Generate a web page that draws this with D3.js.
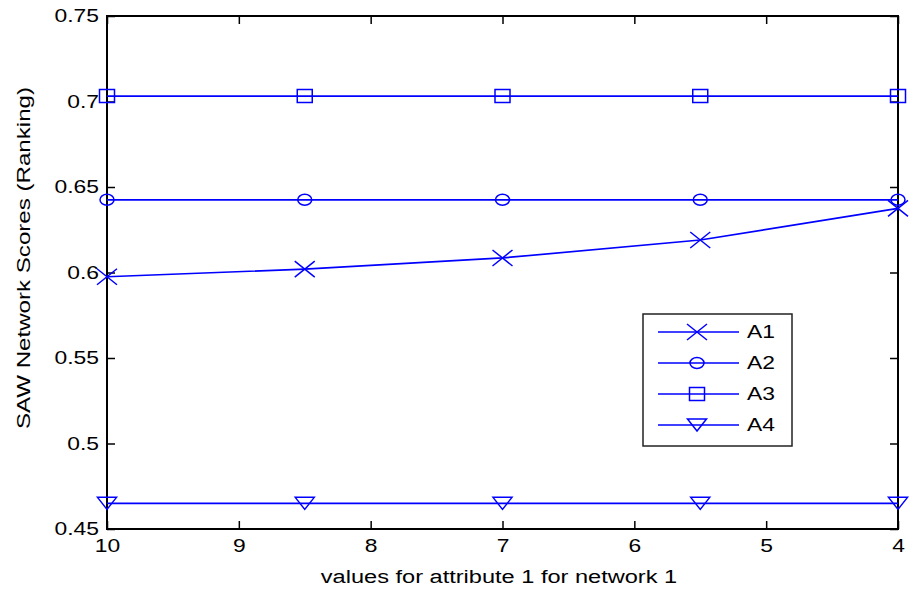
<!DOCTYPE html>
<html>
<head>
<meta charset="utf-8">
<script src="https://cdn.jsdelivr.net/npm/d3@7"></script>
<style>
  body { margin: 0; background: #fff; }
  svg { display: block; font-family: "Liberation Sans", Arial, sans-serif; }
</style>
</head>
<body>
<svg id="chart" width="912" height="592"></svg>
<script>
// Attribute 1 values for network 1 (x axis runs from 10 down to 4)
const attrValues = [10, 8.5, 7, 5.5, 4];
const seriesNames = ["A1", "A2", "A3", "A4"];
const scoresA1 = [0.5975, 0.6020, 0.6085, 0.6190, 0.6375];
const scoresA2 = [0.6425, 0.6425, 0.6425, 0.6425, 0.6425];
const scoresA3 = [0.7032, 0.7032, 0.7032, 0.7032, 0.7032];
const scoresA4 = [0.4650, 0.4650, 0.4650, 0.4650, 0.4650];
const xTicks = [10, 9, 8, 7, 6, 5, 4];
const yTicks = [0.45, 0.5, 0.55, 0.6, 0.65, 0.7, 0.75];
const yTickLabels = ["0.45", "0.5", "0.55", "0.6", "0.65", "0.7", "0.75"];

const allSeries = [scoresA1, scoresA2, scoresA3, scoresA4];
const markerKinds = ["cross", "circle", "square", "triangle"];

const svg = d3.select("#chart");
const plotLeft = 107, plotRight = 898, plotTop = 16, plotBottom = 529;
const blue = "#0000ff";
const textWiden = 1.27;   // glyphs are drawn a little wider than the plain font

const x = d3.scaleLinear().domain([10, 4]).range([plotLeft, plotRight]);
const y = d3.scaleLinear().domain([0.45, 0.75]).range([plotBottom, plotTop]);

// Axes with inward ticks on all four sides (boxed plot)
const tickLen = 8;
const fontSize = 18;
const bottomAxis = d3.axisBottom(x).tickValues(xTicks).tickSize(-tickLen).tickPadding(6).tickFormat(d3.format("d"));
const topAxis = d3.axisTop(x).tickValues(xTicks).tickSize(-tickLen).tickFormat("");
const leftAxis = d3.axisLeft(y).tickValues(yTicks).tickSize(-tickLen).tickPadding(8)
  .tickFormat((d, i) => yTickLabels[i]);
const rightAxis = d3.axisRight(y).tickValues(yTicks).tickSize(-tickLen).tickFormat("");

function styleAxis(g) {
  g.select(".domain").remove();
  g.selectAll(".tick line").attr("stroke", "#000").attr("stroke-width", 1.5);
  g.selectAll(".tick text").attr("fill", "#000").style("font-size", fontSize + "px")
    .style("font-family", '"Liberation Sans", Arial, sans-serif');
}

svg.append("g").attr("transform", `translate(0,${plotBottom})`).call(bottomAxis).call(styleAxis)
  .selectAll(".tick text").attr("dy", "0.95em");
svg.append("g").attr("transform", `translate(0,${plotTop})`).call(topAxis).call(styleAxis);
svg.append("g").attr("transform", `translate(${plotLeft},0)`).call(leftAxis).call(styleAxis);
svg.append("g").attr("transform", `translate(${plotRight},0)`).call(rightAxis).call(styleAxis);

// Plot frame
svg.append("rect")
  .attr("x", plotLeft).attr("y", plotTop)
  .attr("width", plotRight - plotLeft).attr("height", plotBottom - plotTop)
  .attr("fill", "none").attr("stroke", "#000").attr("stroke-width", 2);

// Marker outlines
function markerPath(kind, cx, cy) {
  const p = d3.path();
  if (kind === "cross") {
    const w = 10, h = 8;
    p.moveTo(cx - w, cy - h); p.lineTo(cx + w, cy + h);
    p.moveTo(cx - w, cy + h); p.lineTo(cx + w, cy - h);
  } else if (kind === "circle") {
    return `M${cx - 7},${cy} a7,5.5 0 1,0 14,0 a7,5.5 0 1,0 -14,0`;
  } else if (kind === "square") {
    p.rect(cx - 7.5, cy - 6.5, 15, 13);
  } else if (kind === "triangle") {
    p.moveTo(cx - 9.5, cy - 6); p.lineTo(cx + 9.5, cy - 6); p.lineTo(cx, cy + 6); p.closePath();
  }
  return p.toString();
}

const line = d3.line().x((d, i) => x(attrValues[i])).y(d => y(d));
const plot = svg.append("g");

allSeries.forEach((vals, si) => {
  plot.append("path").datum(vals).attr("d", line)
    .attr("fill", "none").attr("stroke", blue).attr("stroke-width", 1.7);
  plot.selectAll(null).data(vals).enter().append("path")
    .attr("d", (d, i) => markerPath(markerKinds[si], x(attrValues[i]), y(d)))
    .attr("fill", "none").attr("stroke", blue).attr("stroke-width", 1.5);
});

// Legend
const lg = svg.append("g");
lg.append("rect").attr("x", 643).attr("y", 314).attr("width", 149).attr("height", 132)
  .attr("fill", "#fff").attr("stroke", "#222").attr("stroke-width", 1.5);
const legendY = d3.scalePoint().domain(seriesNames).range([332, 425]);
seriesNames.forEach((name, si) => {
  const ly = legendY(name);
  lg.append("line").attr("x1", 658).attr("x2", 739).attr("y1", ly).attr("y2", ly)
    .attr("stroke", blue).attr("stroke-width", 1.7);
  lg.append("path").attr("d", markerPath(markerKinds[si], 697, ly))
    .attr("fill", "none").attr("stroke", blue).attr("stroke-width", 1.5);
  lg.append("text").attr("x", 747).attr("y", ly).attr("dy", "0.36em")
    .style("font-size", "18px").attr("fill", "#000").text(name);
});

// Axis titles
svg.append("text").attr("class", "axis-title").attr("data-widen", 1.31)
  .attr("x", 499).attr("y", 583)
  .attr("text-anchor", "middle").style("font-size", "18px").attr("fill", "#000")
  .text("values for attribute 1 for network 1");
svg.append("text").attr("class", "axis-title").attr("data-widen", 1.34)
  .attr("transform", "translate(30,258) rotate(-90)")
  .attr("text-anchor", "middle").style("font-size", "18px").attr("fill", "#000")
  .text("SAW Network Scores (Ranking)");

// Widen every label along its baseline, keeping its anchor point fixed
svg.selectAll("text").each(function () {
  const el = d3.select(this);
  const ax = +el.attr("x") || 0;
  const k = +el.attr("data-widen") || textWiden;
  const prev = el.attr("transform") || "";
  el.attr("transform", `${prev} translate(${ax},0) scale(${k},1) translate(${-ax},0)`);
});
</script>
</body>
</html>
